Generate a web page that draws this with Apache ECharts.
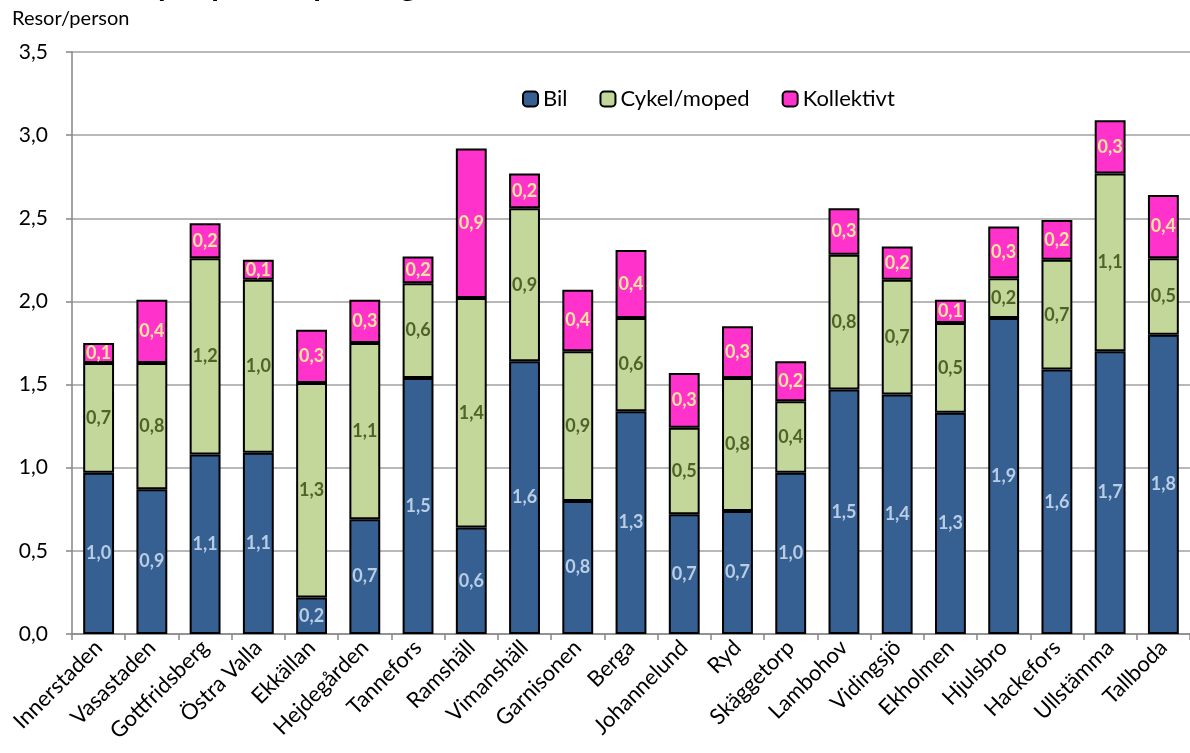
<!DOCTYPE html>
<html>
<head>
<meta charset="utf-8">
<script src="https://cdn.jsdelivr.net/npm/echarts@6/dist/echarts.min.js"></script>
<style>
  html, body { margin: 0; padding: 0; background: #fff; }
  #chart { width: 1190px; height: 753px; }
</style>
</head>
<body>
<div id="chart"></div>
<script>
// Trips per person and day, by district and mode of travel
const districts = [
  'Innerstaden', 'Vasastaden', 'Gottfridsberg', 'Östra Valla', 'Ekkällan',
  'Hejdegården', 'Tannefors', 'Ramshäll', 'Vimanshäll', 'Garnisonen',
  'Berga', 'Johannelund', 'Ryd', 'Skäggetorp', 'Lambohov',
  'Vidingsjö', 'Ekholmen', 'Hjulsbro', 'Hackefors', 'Ullstämma', 'Tallboda'
];

const bil = [
  0.97, 0.87, 1.08, 1.09, 0.22,
  0.69, 1.54, 0.64, 1.64, 0.80,
  1.34, 0.72, 0.74, 0.97, 1.47,
  1.44, 1.33, 1.90, 1.59, 1.70, 1.80
];

const cykelMoped = [
  0.66, 0.76, 1.18, 1.04, 1.29,
  1.06, 0.57, 1.38, 0.92, 0.90,
  0.56, 0.52, 0.80, 0.43, 0.81,
  0.69, 0.54, 0.24, 0.66, 1.07, 0.46
];

const kollektivt = [
  0.12, 0.38, 0.21, 0.12, 0.32,
  0.26, 0.16, 0.90, 0.21, 0.37,
  0.41, 0.33, 0.31, 0.24, 0.28,
  0.20, 0.14, 0.31, 0.24, 0.32, 0.38
];

const yTicks = ['0,0', '0,5', '1,0', '1,5', '2,0', '2,5', '3,0', '3,5'];

const FONT = 'Lato, "Open Sans", sans-serif';
const fmt = v => v.toFixed(1).replace('.', ',');

function stackSeries(name, data, color, labelColor) {
  return {
    name: name,
    type: 'bar',
    stack: 'trips',
    data: data,
    barWidth: '58%',
    itemStyle: { color: color, borderColor: '#000', borderWidth: 2 },
    label: {
      show: true,
      position: 'inside',
      color: labelColor,
      fontFamily: FONT,
      fontWeight: 'bold',
      fontSize: 18,
      formatter: p => fmt(p.value)
    },
    emphasis: { disabled: true }
  };
}

const chart = echarts.init(document.getElementById('chart'), null, { renderer: 'canvas' });

chart.setOption({
  animation: false,
  backgroundColor: '#ffffff',
  graphic: [
    {
      type: 'text',
      left: 72,
      top: -30,
      style: {
        text: 'Resor per person per dag',
        font: 'bold 31px ' + FONT,
        fill: '#000'
      }
    },
    {
      type: 'text',
      left: 12,
      top: 9,
      style: {
        text: 'Resor/person',
        font: '20px ' + FONT,
        fill: '#000'
      }
    }
  ],
  legend: {
    left: 517,
    top: 83,
    itemWidth: 15,
    itemHeight: 15,
    itemGap: 32,
    textStyle: { fontFamily: FONT, fontSize: 22, color: '#000' },
    data: ['Bil', 'Cykel/moped', 'Kollektivt']
  },
  grid: {
    left: 72,
    right: -11,
    top: 52,
    bottom: 119,
    containLabel: false
  },
  xAxis: {
    type: 'category',
    data: districts,
    axisLine: { lineStyle: { color: '#868686', width: 1.5 } },
    axisTick: { show: true, alignWithLabel: false, length: 6, lineStyle: { color: '#868686', width: 1.5 } },
    axisLabel: {
      interval: 0,
      rotate: 45,
      margin: 10,
      color: '#000',
      fontFamily: FONT,
      fontSize: 22
    }
  },
  yAxis: {
    type: 'value',
    min: 0,
    max: 3.5,
    interval: 0.5,
    axisLine: { show: true, lineStyle: { color: '#868686', width: 1.5 } },
    axisTick: { show: true, inside: false, length: 6, lineStyle: { color: '#868686', width: 1.5 } },
    splitLine: { lineStyle: { color: '#A0A0A0', width: 1.5 } },
    axisLabel: {
      margin: 24,
      color: '#000',
      fontFamily: FONT,
      fontSize: 21,
      formatter: v => yTicks[Math.round(v / 0.5)]
    }
  },
  series: [
    stackSeries('Bil', bil, '#366092', '#B9CDE5'),
    stackSeries('Cykel/moped', cykelMoped, '#C4D79B', '#4F6228'),
    stackSeries('Kollektivt', kollektivt, '#FF33CC', '#FFE699')
  ]
});
</script>
</body>
</html>
